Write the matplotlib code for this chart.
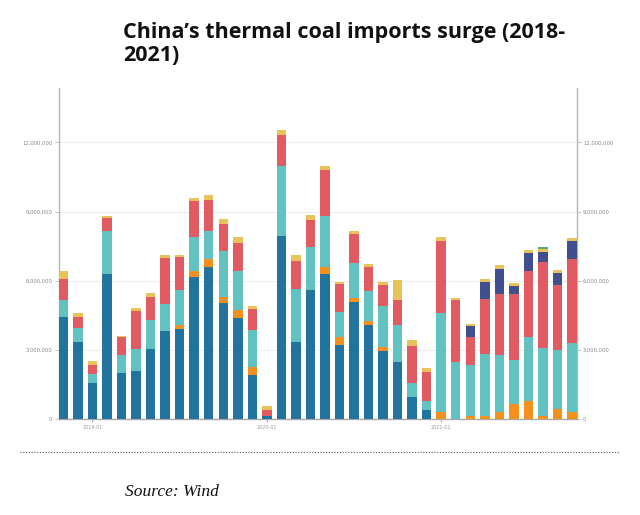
import matplotlib
matplotlib.use("Agg")
import matplotlib.pyplot as plt
from matplotlib.lines import Line2D
import numpy as np

# Values in millions of tonnes (36 monthly bars)
blue = [4.42, 3.36, 1.58, 6.29, 2.02, 2.10, 3.03, 3.84, 3.90, 6.17, 6.58, 5.05,
        4.40, 1.93, 0.14, 7.94, 3.33, 5.61, 6.28, 3.22, 5.08, 4.07, 2.94, 2.48,
        0.98, 0.40, 0, 0, 0, 0, 0, 0, 0, 0, 0, 0]
orange = [0, 0, 0, 0, 0, 0, 0, 0, 0.18, 0.26, 0.35, 0.24,
          0.33, 0.35, 0, 0, 0, 0, 0.33, 0.33, 0.18, 0.17, 0.18, 0,
          0, 0, 0.32, 0, 0.14, 0.14, 0.33, 0.66, 0.81, 0.14, 0.46, 0.32]
teal = [0.74, 0.59, 0.38, 1.86, 0.76, 0.93, 1.27, 1.15, 1.53, 1.47, 1.23, 2.01,
        1.69, 1.59, 0, 3.04, 2.32, 1.84, 2.20, 1.11, 1.51, 1.33, 1.81, 1.59,
        0.58, 0.41, 4.27, 2.49, 2.20, 2.67, 2.44, 1.91, 2.75, 2.96, 2.55, 3.00]
red = [0.94, 0.48, 0.39, 0.58, 0.77, 1.66, 0.98, 2.01, 1.42, 1.55, 1.35, 1.17,
       1.20, 0.89, 0.28, 1.33, 1.23, 1.19, 2.01, 1.21, 1.25, 1.01, 0.90, 1.09,
       1.61, 1.22, 3.14, 2.66, 1.24, 2.40, 2.68, 2.84, 2.86, 3.70, 2.83, 3.63]
navy = [0] * 28 + [0.47, 0.75, 1.06, 0.36, 0.79, 0.44, 0.48, 0.77]
yellow = [0.32, 0.16, 0.17, 0.08, 0.07, 0.14, 0.20, 0.14, 0.11, 0.16, 0.20, 0.23,
          0.28, 0.16, 0.17, 0.21, 0.23, 0.23, 0.16, 0.07, 0.16, 0.17, 0.13, 0.87,
          0.28, 0.18, 0.15, 0.11, 0.10, 0.14, 0.18, 0.12, 0.12, 0.13, 0.13, 0.13]
green = [0] * 33 + [0.08, 0, 0]

series = [blue, orange, teal, red, navy, yellow, green]
colors = ["#23739f", "#f5901e", "#62c2c1", "#e05c62", "#3f4f8f", "#e8c35a", "#5aa86a"]

tick_positions = [2, 14, 26]
tick_labels = ["2019-01", "2020-01", "2021-01"]
ytick_values = [0, 3_000_000, 6_000_000, 9_000_000, 12_000_000]

fig = plt.figure(figsize=(6.4, 5.15), dpi=100)
ax = fig.add_axes([0.0917, 0.1858, 0.8094, 0.643])

n = len(blue)
x = np.arange(n)
bottom = np.zeros(n)
for vals, c in zip(series, colors):
    v = np.array(vals) * 1e6
    ax.bar(x, v, width=0.65, bottom=bottom, color=c, linewidth=0, zorder=3)
    bottom += v

ax.set_xlim(-0.325, n - 1 + 0.325)
ax.set_ylim(0, 14.35e6)

ax.set_yticks(ytick_values)
ax.set_yticklabels([f"{v:,}" for v in ytick_values])
ax.tick_params(axis="y", which="both", labelsize=3.8, labelcolor="#888888",
               color="#bbbbbb", length=3, width=0.6, left=True, right=True,
               labelleft=True, labelright=True, pad=1.5)
ax.set_xticks(tick_positions)
ax.set_xticklabels(tick_labels)
ax.tick_params(axis="x", labelsize=3.5, labelcolor="#999999", color="#999999",
               length=2, width=0.6, pad=2)

ax.grid(axis="y", color="#eeeeee", linewidth=0.8, zorder=0)
for s in ["left", "right"]:
    ax.spines[s].set_color("#b5b5b5")
    ax.spines[s].set_linewidth(1.0)
ax.spines["top"].set_visible(False)
ax.spines["bottom"].set_color("#aaaaaa")
ax.spines["bottom"].set_linewidth(1.0)

fig.text(0.192, 0.957, "China\u2019s thermal coal imports surge (2018-\n2021)",
         fontsize=15.5, fontweight="bold", family=["Open Sans", "DejaVu Sans"],
         color="#111111", ha="left", va="top", linespacing=1.1)

fig.add_artist(Line2D([20 / 640, 620 / 640], [1 - 452 / 515, 1 - 452 / 515],
                      transform=fig.transFigure, color="#555555",
                      linestyle=(0, (1, 1.5)), linewidth=0.8))

fig.text(125 / 640, 1 - 492 / 515, "Source: Wind", fontsize=12.5, style="italic",
         family=["Liberation Serif", "DejaVu Serif"], color="#111111",
         ha="left", va="center")

fig.savefig("out.png", dpi=100)
